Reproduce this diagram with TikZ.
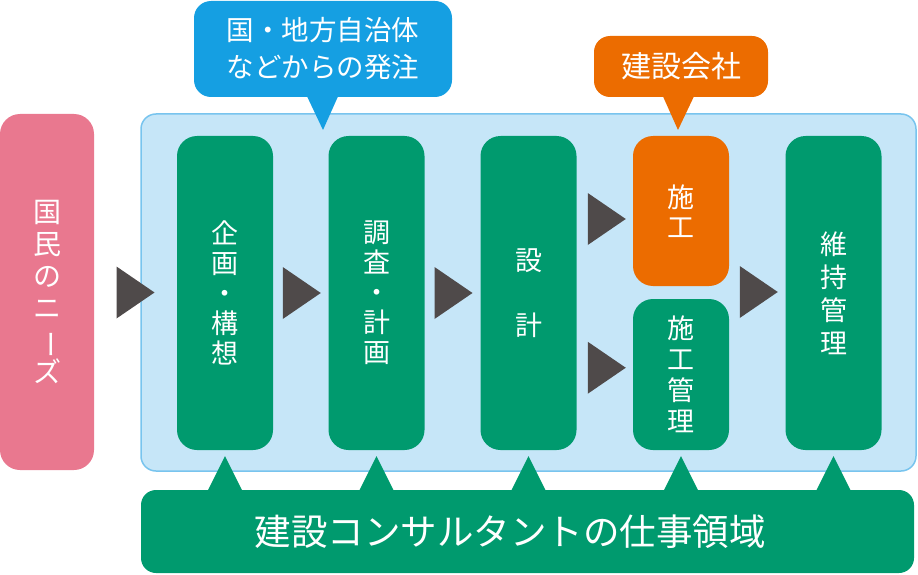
\documentclass[tikz,border=0pt]{standalone}
\usepackage{fontspec}
\setmainfont{Noto Sans CJK JP}
\usepackage{graphicx}
\usetikzlibrary{calc}
\definecolor{cgreen}{HTML}{009A6E}
\definecolor{cpink}{HTML}{E9788F}
\definecolor{cbgfill}{HTML}{C6E6F8}
\definecolor{cbgline}{HTML}{78C4EE}
\definecolor{cblue}{HTML}{159FE2}
\definecolor{corange}{HTML}{EC6C00}
\definecolor{carrow}{HTML}{4F4A4A}
\newcommand\vbar{\rotatebox[origin=c]{-90}{ー}}
\begin{document}
\begin{tikzpicture}[x=1pt,y=-1pt,
  stage/.style={rounded corners=20pt, inner sep=0pt, text=white, align=center, minimum width=96pt},
  callout/.style={rounded corners=17pt, inner sep=0pt, text=white, align=center},
  tri/.pic={\fill[carrow] (-19,-26) -- (19,0) -- (-19,26) -- cycle;}]
\useasboundingbox (0,0) rectangle (918,575);
% background panel
\node[fill=cbgfill, draw=cbgline, line width=1.5pt, rounded corners=15pt,
      minimum width=775pt, minimum height=357pt, inner sep=0pt] (panel) at (528.5,292.5) {};
% needs box
\node[stage, fill=cpink, minimum width=94pt, minimum height=356pt,
      font=\fontsize{28}{32}\selectfont] (needs) at (47,292)
      {国\\民\\の\\ニ\\\vbar\\ズ};
% callouts
\node[callout, fill=cblue, minimum width=258pt, minimum height=96pt,
      font=\fontsize{27.5}{37}\selectfont] (order) at (323,49)
      {国・地方自治体\\などからの発注};
\coordinate (ordertip) at (323,130);
\fill[cblue] ($(order.south)+(-17,-3)$) -- ($(order.south)+(16,-3)$) -- (ordertip) -- cycle;
\node[callout, fill=corange, rounded corners=16pt, minimum width=174pt, minimum height=61pt,
      font=\fontsize{30}{36}\selectfont] (company) at (681,66.5) {建設会社};
\coordinate (companytip) at (678,130);
\fill[corange] ($(company.south)+(-19,-3)$) -- ($(company.south)+(14,-3)$) -- (companytip) -- cycle;
% stages
\node[stage, fill=cgreen, minimum height=314pt, font=\fontsize{27}{30}\selectfont]
      (kikaku) at (225,293) {企\\画\\・\\構\\想};
\node[stage, fill=cgreen, minimum height=314pt, font=\fontsize{27}{30}\selectfont]
      (chosa) at (376.5,293) {調\\査\\・\\計\\画};
\node[stage, fill=cgreen, minimum height=314pt, font=\fontsize{27}{65}\selectfont]
      (sekkei) at (528.5,293) {設\\計};
\node[stage, fill=corange, minimum height=150pt, font=\fontsize{27}{30}\selectfont]
      (seko) at (681,211) {施\\工};
\node[stage, fill=cgreen, minimum height=151pt, font=\fontsize{27}{31}\selectfont]
      (sekokanri) at (681,374.5) {施\\工\\管\\理};
\node[stage, fill=cgreen, minimum height=314pt, font=\fontsize{27}{33}\selectfont]
      (iji) at (833.5,293) {維\\持\\管\\理};
% flow arrows
\pic at ($(needs.east)!0.5!(kikaku.west)$) {tri};
\pic at ($(kikaku.east)!0.5!(chosa.west)+(1,0)$) {tri};
\pic at ($(chosa.east)!0.5!(sekkei.west)+(1,0)$) {tri};
\pic at ($(sekkei.east)!0.5!(seko.west)+(2,-33)$) {tri};
\pic at ($(sekkei.east)!0.5!(sekokanri.west)+(2,34)$) {tri};
\pic at ($(seko.east)!0.5!(iji.west)+(1.5,40)$) {tri};
% bottom bar
\node[fill=cgreen, rounded corners=15pt, minimum width=773pt, minimum height=83pt, inner sep=0pt]
      (scope) at (527.5,531.5) {};
\foreach \c in {kikaku,chosa,sekkei,sekokanri,iji}{
  \fill[cgreen] ($(\c.south)+(0,6)$) -- ($(\c.south)+(18,42)$) -- ($(\c.south)+(-18,42)$) -- cycle;
}
\node[text=white, inner sep=0pt, font=\fontsize{36.5}{40}\selectfont] (scopetext) at (510,532)
      {建設コンサルタントの仕事領域};
\end{tikzpicture}
\end{document}
